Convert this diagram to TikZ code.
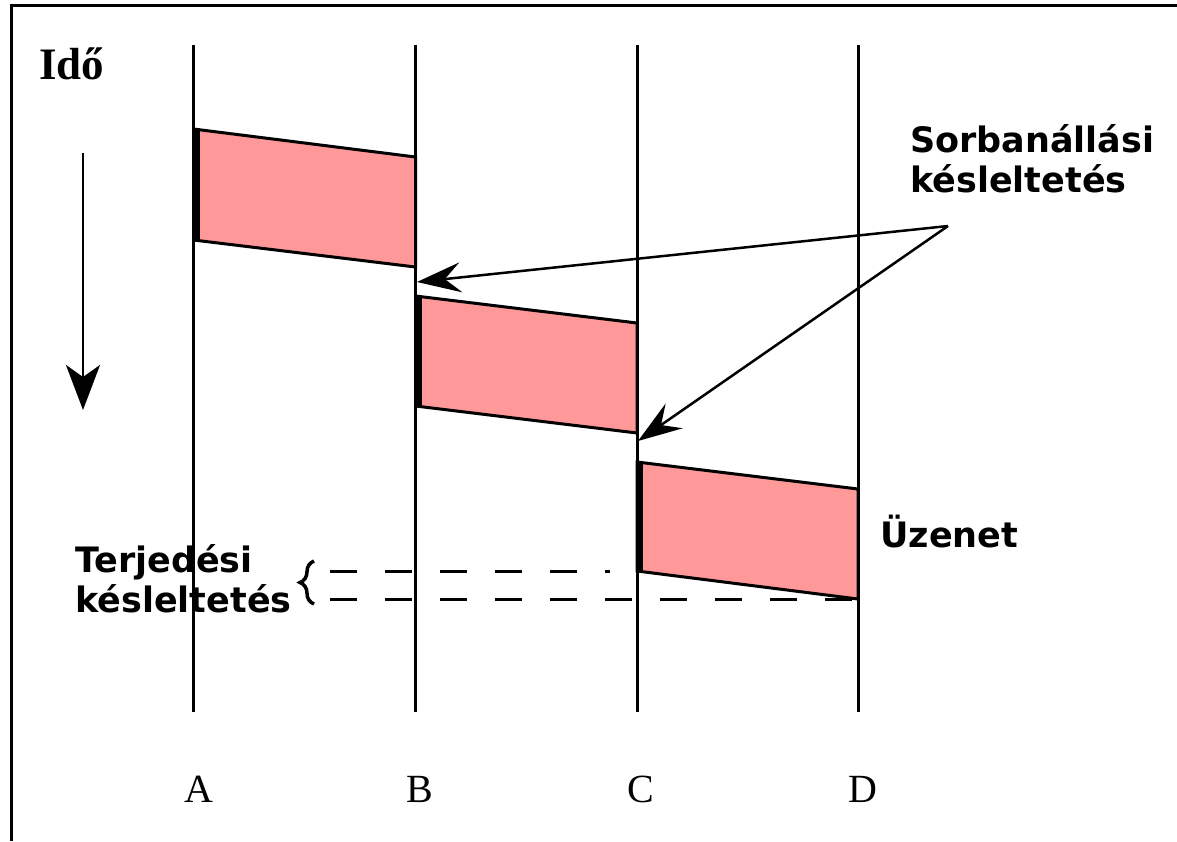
\documentclass[tikz,border=0pt]{standalone}
\usepackage{fontspec}
\usetikzlibrary{arrows.meta,decorations.pathreplacing}
\newfontfamily\lblfont{DejaVu Sans}
\newfontfamily\serfont{Liberation Serif}
\definecolor{boxpink}{HTML}{FF9999}
\tikzset{
  lifeline/.style={line width=3pt},
  boxshape/.style={fill=boxpink, draw=black, line width=3pt},
  boxedge/.style={line width=6pt},
  lbl/.style={font=\lblfont\bfseries\fontsize{35}{39.5}\selectfont, inner sep=0pt, align=left, anchor=base west},
  axislbl/.style={font=\serfont\fontsize{40}{40}\selectfont, inner sep=0pt, anchor=base},
  dashline/.style={line width=3pt, dash pattern=on 27pt off 28pt},
  pointer/.style={line width=2.5pt, -{Stealth[length=44pt 0, width=30pt 0, inset=16pt 0]}},
}
\begin{document}
\begin{tikzpicture}[x=1pt, y=-1pt]
  \fill[white] (0,0) rectangle (1177,841);
  \useasboundingbox (0,0) rectangle (1177,841);
  % frame
  \draw[line width=3pt] (11.5,841) -- (11.5,5.5) -- (1177,5.5);
  % lifelines
  \foreach \n/\x in {A/193.5, B/415.5, C/637, D/858}{
    \coordinate (\n top) at (\x,45);
    \coordinate (\n bot) at (\x,712);
    \draw[lifeline] (\n top) -- (\n bot);
  }
  % lifeline labels
  \node[axislbl] (lA) at (199,802) {A};
  \node[axislbl] (lB) at (420,802) {B};
  \node[axislbl] (lC) at (641,802) {C};
  \node[axislbl] (lD) at (863,802) {D};
  % message boxes
  \filldraw[boxshape] (193.5,129) -- (415.5,157) -- (415.5,267) -- (193.5,240) -- cycle;
  \draw[boxedge] (196.5,129) -- (196.5,240);
  \filldraw[boxshape] (415.5,296) -- (637,323) -- (637,433) -- (415.5,406) -- cycle;
  \draw[boxedge] (418.5,296) -- (418.5,406);
  \filldraw[boxshape] (637,462) -- (858,489) -- (858,599) -- (637,571) -- cycle;
  \draw[boxedge] (640,462) -- (640,571);
  % time axis
  \node[font=\serfont\bfseries\fontsize{45}{45}\selectfont, inner sep=0pt, anchor=base west] (ido) at (39,79) {Idő};
  \coordinate (tstart) at (83,153);
  \coordinate (tend) at (83,410);
  \draw[line width=2.5pt, -{Stealth[length=45pt 0, width=34pt 0, inset=12pt 0]}] (tstart) -- (tend);
  % queueing delay
  \node[lbl] (sorb) at (910,192) {Sorbanállási\\késleltetés};
  \coordinate (src) at (948,226);
  \coordinate (tipB) at (417,282);
  \coordinate (tipC) at (638,441);
  \draw[pointer] (src) -- (tipB);
  \draw[pointer] (src) -- (tipC);
  % message label
  \node[lbl] (uz) at (880,547) {Üzenet};
  % propagation delay
  \node[lbl] (terj) at (75,612) {Terjedési\\késleltetés};
  \coordinate (d1a) at (330,571);
  \coordinate (d1b) at (610,571);
  \coordinate (d2a) at (330,599);
  \coordinate (d2b) at (858,599);
  \draw[dashline] (d1a) -- (d1b);
  \draw[dashline] (d2a) -- (d2b);
  \draw[line width=3.5pt, decorate, decoration={brace, amplitude=14pt, aspect=0.5}] (314,604) -- (314,561);
\end{tikzpicture}
\end{document}
